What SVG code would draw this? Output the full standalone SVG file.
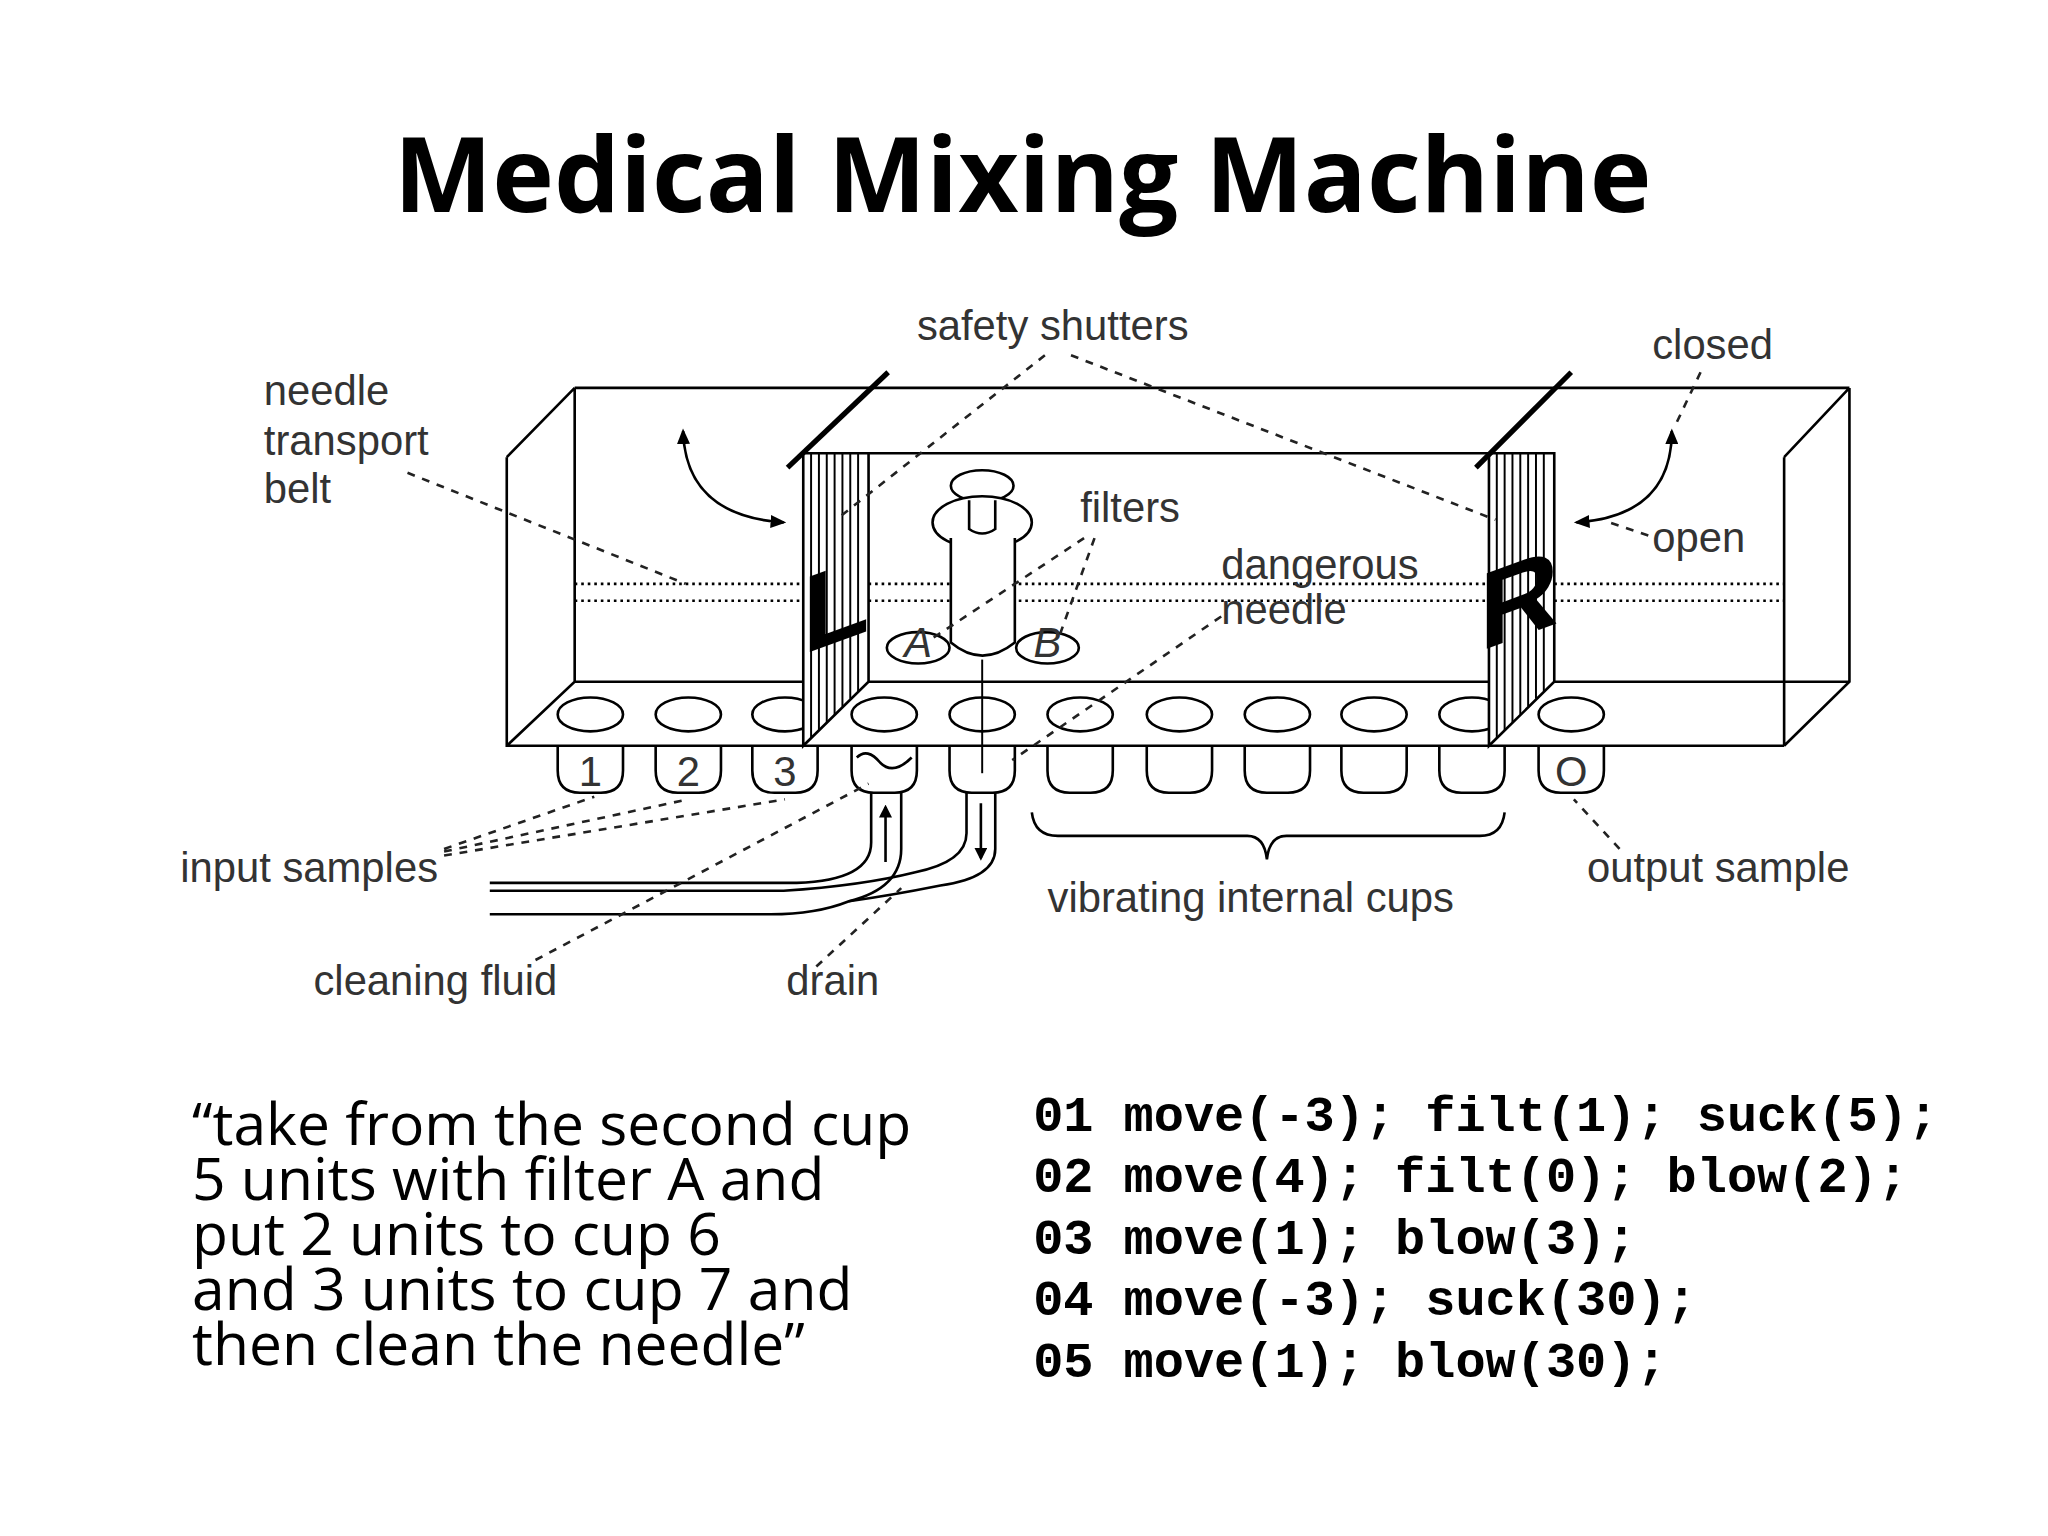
<svg xmlns="http://www.w3.org/2000/svg" width="2048" height="1536" viewBox="0 0 2048 1536">
<style>
.l{fill:none;stroke:#000;stroke-width:2}
.d{fill:none;stroke:#222;stroke-width:2;stroke-dasharray:6 6}
.lab{font-family:"Liberation Sans Narrow","Liberation Sans",sans-serif;font-size:32px;fill:#333}
.q{font-family:"Open Sans","Liberation Sans",sans-serif;font-size:45px;fill:#000}
.c{font-family:"Liberation Mono","Courier New",monospace;font-weight:bold;font-size:38.5px;fill:#000}
.h{stroke:#000;stroke-width:1.5}
</style>
<defs>
<marker id="ah" markerWidth="10" markerHeight="10" refX="8" refY="5" orient="auto" markerUnits="userSpaceOnUse"><path d="M0,0 L10,5 L0,10 z"/></marker>
<marker id="as" markerWidth="12" markerHeight="10" refX="10" refY="5" orient="auto-start-reverse" markerUnits="userSpaceOnUse"><path d="M0,0 L12,5 L0,10 z"/></marker>
</defs>
<rect width="2048" height="1536" fill="#fff"/>
<g transform="scale(1.3061)">
<text x="783" y="162" text-anchor="middle" font-family="Open Sans, Liberation Sans, sans-serif" font-weight="bold" font-size="80">Medical Mixing Machine</text>

<g id="box">
<path class="l" d="M440,297 H1416 M388,350 L440,297 M388,350 V571 H1366 M440,297 V522 L388,571 M440,522 H615 M665,347 H1140 M665,522 H1140 M1190,522 H1416 M1366,350 L1416,297 M1366,350 V571 M1416,297 V522 L1366,571"/>
<path d="M440,447 H1366 M440,460 H1366" stroke="#000" stroke-width="2" stroke-dasharray="2 3"/>
</g>
<g id="cups">
<g class="l">
<ellipse cx="452" cy="547" rx="25" ry="13"/><ellipse cx="527" cy="547" rx="25" ry="13"/><ellipse cx="601" cy="547" rx="25" ry="13"/>
<ellipse cx="677" cy="547" rx="25" ry="13"/><ellipse cx="752" cy="547" rx="25" ry="13"/><ellipse cx="827" cy="547" rx="25" ry="13"/>
<ellipse cx="903" cy="547" rx="25" ry="13"/><ellipse cx="978" cy="547" rx="25" ry="13"/><ellipse cx="1052" cy="547" rx="25" ry="13"/>
<ellipse cx="1127" cy="547" rx="25" ry="13"/><ellipse cx="1203" cy="547" rx="25" ry="13"/>
<path d="M427,571 V590 Q427,607 444,607 H460 Q477,607 477,590 V571"/>
<path d="M502,571 V590 Q502,607 519,607 H535 Q552,607 552,590 V571"/>
<path d="M576,571 V590 Q576,607 593,607 H609 Q626,607 626,590 V571"/>
<path d="M652,571 V590 Q652,607 669,607 H685 Q702,607 702,590 V571"/>
<path d="M727,571 V590 Q727,607 744,607 H760 Q777,607 777,590 V571"/>
<path d="M802,571 V590 Q802,607 819,607 H835 Q852,607 852,590 V571"/>
<path d="M878,571 V590 Q878,607 895,607 H911 Q928,607 928,590 V571"/>
<path d="M953,571 V590 Q953,607 970,607 H986 Q1003,607 1003,590 V571"/>
<path d="M1027,571 V590 Q1027,607 1044,607 H1060 Q1077,607 1077,590 V571"/>
<path d="M1102,571 V590 Q1102,607 1119,607 H1135 Q1152,607 1152,590 V571"/>
<path d="M1178,571 V590 Q1178,607 1195,607 H1211 Q1228,607 1228,590 V571"/>
<path d="M656,580 Q664,572 674,584 Q684,594 698,580"/>
</g>
<g class="lab" text-anchor="middle" font-size="30"><text x="452" y="602">1</text><text x="527" y="602">2</text><text x="601" y="602">3</text><text x="1203" y="602">O</text></g>
</g>
<g id="syringe" class="l" fill="#fff">
<line x1="752" y1="505" x2="752" y2="592" stroke-width="1.5"/>
<ellipse cx="752" cy="372" rx="24" ry="12" fill="#fff"/>
<ellipse cx="752" cy="400" rx="38" ry="20" fill="#fff"/>
<path d="M742,383 V405 Q752,412 762,405 V383" fill="#fff"/>
<path d="M728,412 V492 Q752,512 777,492 V412" fill="#fff"/>
<ellipse cx="703" cy="496" rx="24" ry="12" fill="#fff"/>
<ellipse cx="802" cy="496" rx="24" ry="12" fill="#fff"/>
<text x="703" y="503" class="lab" font-size="17" font-style="italic" text-anchor="middle" stroke="none" fill="#000">A</text>
<text x="802" y="503" class="lab" font-size="17" font-style="italic" text-anchor="middle" stroke="none" fill="#000">B</text>
</g>
<g id="shutterL">
<path d="M615,347 H665 V522 L615,571 Z" fill="#fff" stroke="#000" stroke-width="2"/>
<path class="h" d="M621,347 V565 M627,347 V559 M633,347 V553 M639,347 V547 M645,347 V541 M651,347 V535 M657,347 V529"/>
<line x1="603" y1="358" x2="680" y2="285" stroke="#000" stroke-width="4"/>
<text x="640" y="492" font-family="Liberation Sans, sans-serif" font-weight="bold" font-size="84" text-anchor="middle" transform="skewY(-20) translate(0,233)">L</text>
</g>
<g id="shutterR">
<path d="M1140,347 H1190 V522 L1140,571 Z" fill="#fff" stroke="#000" stroke-width="2"/>
<path class="h" d="M1146,347 V565 M1152,347 V559 M1158,347 V553 M1164,347 V547 M1170,347 V541 M1176,347 V535 M1182,347 V529"/>
<line x1="1130" y1="358" x2="1203" y2="285" stroke="#000" stroke-width="4"/>
<text x="1163" y="488" font-family="Liberation Sans, sans-serif" font-weight="bold" font-size="84" text-anchor="middle" transform="skewY(-20) translate(0,423)">R</text>
</g>
<g id="connectors">
<path class="l" d="M523,330 Q525,395 600,400" marker-start="url(#as)" marker-end="url(#as)"/>
<path class="l" d="M1280,330 Q1280,395 1207,400" marker-start="url(#as)" marker-end="url(#as)"/>
<path class="l" d="M667,607 V645 Q667,674 610,676 H375"/>
<path class="l" d="M690,607 V650 Q690,680 650,690 Q625,700 590,700 H375"/>
<path class="l" d="M740,607 V638 Q740,660 700,668 Q660,678 600,682 H375"/>
<path class="l" d="M762,607 V650 Q762,672 720,678 Q680,686 650,690"/>
<path class="l" d="M678,660 V618" marker-end="url(#ah)" stroke-width="1.5"/>
<path class="l" d="M751,615 V657" marker-end="url(#ah)" stroke-width="1.5"/>
<path class="l" d="M790,622 Q792,640 810,640 H955 Q968,640 970,658 Q972,640 985,640 H1133 Q1150,640 1152,622"/>
<path class="d" d="M800,272 L640,398 M820,272 L1145,398 M1302,285 L1283,325 M312,362 L525,447 M830,412 L712,490 M838,412 L810,490 M935,472 L775,582 M1262,410 L1232,400 M340,650 L455,610 M340,652 L527,612 M340,655 L601,612 M410,735 L665,600 M625,740 L690,680 M1240,650 L1205,612"/>
</g>
<g id="labels" class="lab">
<text x="702" y="260">safety shutters</text>
<text x="1265" y="275">closed</text>
<text x="202" y="310">needle</text><text x="202" y="348">transport</text><text x="202" y="385">belt</text>
<text x="827" y="400">filters</text>
<text x="935" y="443">dangerous</text><text x="935" y="478">needle</text>
<text x="1265" y="423">open</text>
<text x="138" y="675">input samples</text>
<text x="802" y="698">vibrating internal cups</text>
<text x="1215" y="675">output sample</text>
<text x="240" y="762">cleaning fluid</text>
<text x="602" y="762">drain</text>
</g>
<g id="quote" class="q">
<text x="147" y="877">“take from the second cup</text>
<text x="147" y="919">5 units with filter A and</text>
<text x="147" y="961">put 2 units to cup 6</text>
<text x="147" y="1003">and 3 units to cup 7 and</text>
<text x="147" y="1045">then clean the needle”</text>
</g>
<g id="code" class="c">
<text x="791" y="866">01 move(-3); filt(1); suck(5);</text>
<text x="791" y="913">02 move(4); filt(0); blow(2);</text>
<text x="791" y="960">03 move(1); blow(3);</text>
<text x="791" y="1007">04 move(-3); suck(30);</text>
<text x="791" y="1054">05 move(1); blow(30);</text>
</g>
</g>
</svg>
